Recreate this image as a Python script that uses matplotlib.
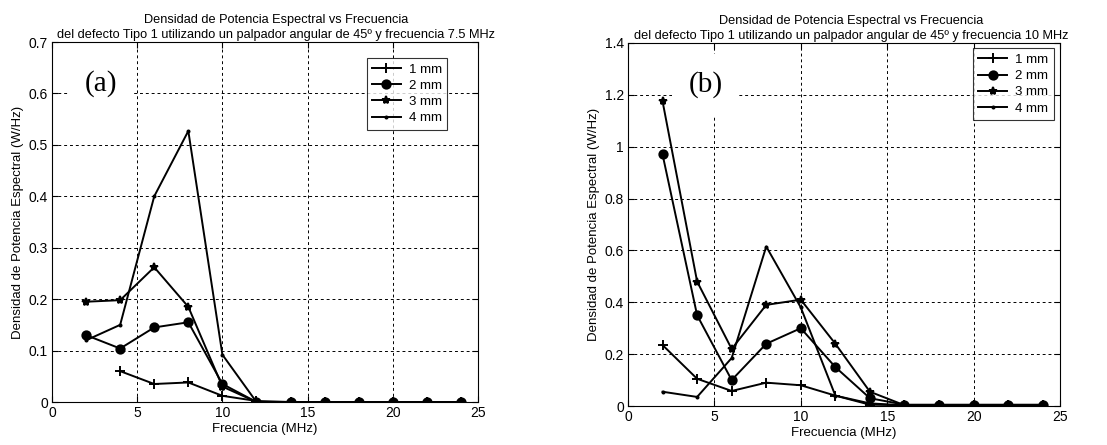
import numpy as np
import matplotlib
matplotlib.use('Agg')
import matplotlib.pyplot as plt
from matplotlib.ticker import FormatStrFormatter

plt.rcParams['font.family'] = ['Liberation Sans', 'DejaVu Sans']

freq = [2, 4, 6, 8, 10, 12, 14, 16, 18, 20, 22, 24]
labels = ['1 mm', '2 mm', '3 mm', '4 mm']

# Panel (a): 7.5 MHz probe
a_1mm = [np.nan, 0.060, 0.035, 0.038, 0.012, 0.002, 0, 0, 0, 0, 0, 0]
a_2mm = [0.130, 0.104, 0.145, 0.155, 0.035, 0.0, 0, 0, 0, 0, 0, 0]
a_3mm = [0.195, 0.198, 0.262, 0.185, 0.030, 0.0, 0, 0, 0, 0, 0, 0]
a_4mm = [0.120, 0.150, 0.400, 0.527, 0.092, 0.0, 0, 0, 0, 0, 0, 0]

# Panel (b): 10 MHz probe
b_1mm = [0.235, 0.105, 0.058, 0.090, 0.080, 0.040, 0.005, 0.003, 0.003, 0.003, 0.003, 0.003]
b_2mm = [0.970, 0.350, 0.100, 0.240, 0.300, 0.150, 0.030, 0.005, 0.005, 0.005, 0.005, 0.005]
b_3mm = [1.175, 0.480, 0.220, 0.390, 0.410, 0.240, 0.055, 0.003, 0.003, 0.003, 0.003, 0.003]
b_4mm = [0.055, 0.035, 0.185, 0.615, 0.380, 0.040, 0.010, 0.003, 0.003, 0.003, 0.003, 0.003]

markers = ['+', 'o', '*', '.']
msizes = [7, 6, 6, 3]

fig = plt.figure(figsize=(11.07, 4.45), dpi=100)
ax1 = fig.add_axes([52 / 1107, 1 - 402 / 445, 426 / 1107, 360 / 445])
ax2 = fig.add_axes([628 / 1107, 1 - 406 / 445, 432 / 1107, 363 / 445])

panels = [
    (ax1, [a_1mm, a_2mm, a_3mm, a_4mm], 0.7, 0.1, '(a)', '7.5 MHz',
     (1.9, 0.62), (0.928, 0.955), 0.526),
    (ax2, [b_1mm, b_2mm, b_3mm, b_4mm], 1.4, 0.2, '(b)', '10 MHz',
     (3.5, 1.24), (0.985, 0.985), 0.516),
]

for ax, series, ymax, ystep, tag, probe, tagpos, legpos, tx in panels:
    for vals, lab, m, ms in zip(series, labels, markers, msizes):
        ax.plot(freq, vals, color='black', linewidth=1.4, marker=m,
                markersize=ms, markeredgewidth=1.4, label=lab)
    ax.set_xlim(0, 25)
    ax.set_ylim(0, ymax)
    ax.set_xticks(np.arange(0, 26, 5))
    ax.set_yticks(np.arange(0, ymax + ystep / 2, ystep))
    ax.yaxis.set_major_formatter(FormatStrFormatter('%g'))
    ax.tick_params(direction='in', labelsize=10, length=4, top=True, right=True, pad=3)
    ax.grid(True, color='black', linestyle=(0, (3, 3)), linewidth=0.7)
    ax.set_axisbelow(True)
    ax.set_xlabel('Frecuencia (MHz)', fontsize=9.5, labelpad=2)
    ax.set_ylabel('Densidad de Potencia Espectral (W/Hz)', fontsize=9.5, labelpad=3)
    ax.set_title('Densidad de Potencia Espectral vs Frecuencia\n'
                 'del defecto Tipo 1 utilizando un palpador angular de 45º y frecuencia ' + probe,
                 fontsize=9.2, linespacing=1.35, pad=3, x=tx)
    ax.text(tagpos[0], tagpos[1], tag, fontsize=21, family='Liberation Serif',
            ha='left', va='center', zorder=3,
            bbox=dict(facecolor='white', edgecolor='none', pad=12))
    leg = ax.legend(loc='upper right', bbox_to_anchor=legpos, fontsize=9.5, frameon=True,
                    fancybox=False, edgecolor='black', handlelength=2.2, borderaxespad=0.0,
                    labelspacing=0.3, borderpad=0.4, handletextpad=0.6)
    leg.get_frame().set_linewidth(0.8)

fig.savefig('out.png', dpi=100)
